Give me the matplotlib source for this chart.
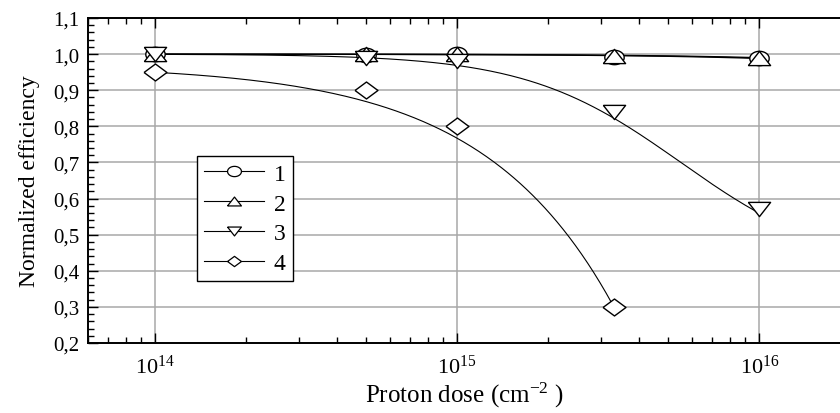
import numpy as np
import matplotlib
matplotlib.use("Agg")
import matplotlib.pyplot as plt
from matplotlib.lines import Line2D
from matplotlib.ticker import FuncFormatter, LogLocator, MultipleLocator, NullFormatter

plt.rcParams['font.family'] = ['Liberation Serif', 'DejaVu Serif']
plt.rcParams['mathtext.fontset'] = 'custom'
plt.rcParams['mathtext.rm'] = 'Liberation Serif'
plt.rcParams['mathtext.it'] = 'Liberation Serif:italic'

# data
dose = [1e14, 5e14, 1e15, 3.3e15, 1e16]
eff_1 = [1.0, 0.998, 1.0, 0.993, 0.988]
eff_2 = [1.0, 1.0, 1.0, 0.995, 0.99]
eff_3 = [1.0, 0.99, 0.98, 0.84, 0.57]
eff_4 = [0.95, 0.90, 0.80, 0.30]
labels = ['1', '2', '3', '4']

# fit curves, dose in units of 1e15 cm^-2
lin_fit_1 = (1.0, -0.0012)      # intercept, slope
lin_fit_2 = (1.0, -0.0010)
hill_fit_3 = (0.6, 5.5, 1.7)     # amplitude, x0, n
lin_fit_4 = (0.970, -0.203)

# flattened marker shapes
ang = np.linspace(0, 2 * np.pi, 41)
m_circle = list(zip(np.cos(ang), 0.74 * np.sin(ang)))
m_up = [(-1, -0.64), (1, -0.64), (0, 0.64), (-1, -0.64)]
m_down = [(-1, 0.64), (1, 0.64), (0, -0.64), (-1, 0.64)]
m_diam = [(-1, 0), (0, 0.74), (1, 0), (0, -0.74), (-1, 0)]
shapes = [m_circle, m_up, m_down, m_diam]
sizes = [14, 16, 16, 16.5]


def lin(p, x):
    return p[0] + p[1] * x


def hill(p, x):
    r = (x / p[1]) ** p[2]
    return 1 - p[0] * r / (1 + r)


fig = plt.figure(figsize=(8.4, 4.14), dpi=100)
ax = fig.add_axes([88 / 840, 70 / 414, 752 / 840, 325 / 414])

xg = np.geomspace(dose[0], dose[-1], 300)
xg4 = np.geomspace(dose[0], dose[3], 300)
ax.plot(xg, lin(lin_fit_1, xg / 1e15), color='black', lw=1.0, zorder=3)
ax.plot(xg, lin(lin_fit_2, xg / 1e15), color='black', lw=1.0, zorder=3)
ax.plot(xg, hill(hill_fit_3, xg / 1e15), color='black', lw=0.8, zorder=3)
ax.plot(xg4, lin(lin_fit_4, xg4 / 1e15), color='black', lw=0.8, zorder=3)

series = [(dose, eff_1), (dose, eff_2), (dose, eff_3), (dose[:4], eff_4)]
for (xs, ys), mk, sz in zip(series, shapes, sizes):
    ax.plot(xs, ys, ls='none', marker=mk, ms=sz, mfc='white', mec='black',
            mew=1.0, zorder=4)

ax.set_xscale('log')
ax.set_xlim(6.0e13, 1.85e16)
ax.set_ylim(0.2, 1.1)

ax.xaxis.set_major_locator(LogLocator(base=10, numticks=10))
ax.xaxis.set_minor_locator(LogLocator(base=10, subs=np.arange(2, 10), numticks=20))
ax.xaxis.set_minor_formatter(NullFormatter())
ax.yaxis.set_major_locator(MultipleLocator(0.1))
ax.yaxis.set_minor_locator(MultipleLocator(0.02))
ax.yaxis.set_major_formatter(FuncFormatter(lambda v, p: f"{v:.1f}".replace('.', ',')))

ax.tick_params(which='both', direction='in', top=True, right=False, width=1.0)
ax.tick_params(which='major', length=7)
ax.tick_params(which='minor', length=4)
ax.tick_params(axis='y', labelsize=15, pad=6)
ax.tick_params(axis='x', labelsize=16, pad=8)

for s in ['left', 'bottom', 'top']:
    ax.spines[s].set_linewidth(1.4)
ax.spines['right'].set_visible(False)

ax.grid(True, which='major', color='#a8a8a8', lw=1.1, zorder=0)
ax.set_axisbelow(True)

ax.set_xlabel('Proton dose (cm$^{-2}$ )', fontsize=18, labelpad=2)
ax.set_ylabel('Normalized efficiency', fontsize=17, labelpad=10)

handles = [Line2D([], [], color='black', lw=0.8, marker=mk, ms=10, mfc='white',
                  mec='black', mew=0.9) for mk in shapes]
ax.legend(handles, labels, loc='upper left', bbox_to_anchor=(0.145, 0.575),
          borderaxespad=0, fontsize=17, handlelength=2.55, handletextpad=0.4,
          labelspacing=0.35, borderpad=0.3, fancybox=False, framealpha=1,
          edgecolor='black', frameon=True)
leg = ax.get_legend()
leg.get_frame().set_linewidth(1.0)

fig.savefig('out.png', dpi=100)
